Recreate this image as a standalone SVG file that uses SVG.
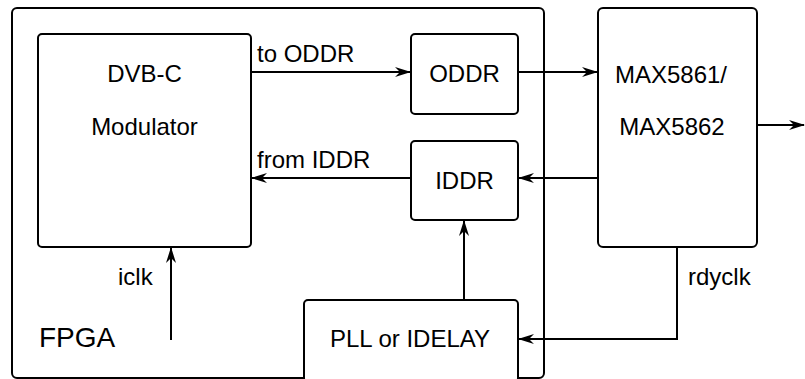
<svg xmlns="http://www.w3.org/2000/svg" width="805" height="379" viewBox="0 0 805 379">
  <style>
    .box { fill: #ffffff; stroke: #000000; stroke-width: 2; }
    .t { font-family: "Liberation Sans", Arial, sans-serif; font-size: 24px; fill: #000000; }
    .c { text-anchor: middle; }
    .big { font-size: 28px; }
    .wire { fill: none; stroke: #000000; stroke-width: 2; marker-end: url(#arr); }
  </style>
  <defs>
    <marker id="arr" markerUnits="userSpaceOnUse" viewBox="0 0 16 10" refX="15" refY="5" markerWidth="16" markerHeight="10" orient="auto">
      <path d="M0,0 L16,5 L0,10 L5,5 Z" fill="#000000"/>
    </marker>
  </defs>
  <rect width="805" height="379" fill="#ffffff"/>

  <g id="fpga">
    <rect class="box" x="12" y="8" width="532" height="370" rx="5"/>
    <text class="t big" x="39" y="347">FPGA</text>
  </g>

  <g id="dvbc">
    <rect class="box" x="38" y="34" width="213" height="213" rx="4"/>
    <text class="t c" x="144.5" y="82">DVB-C</text>
    <text class="t c" x="144.5" y="135">Modulator</text>
  </g>

  <g id="oddr">
    <rect class="box" x="411" y="34" width="107" height="80" rx="4"/>
    <text class="t c" x="464.5" y="82">ODDR</text>
  </g>

  <g id="iddr">
    <rect class="box" x="411" y="141" width="107" height="79" rx="4"/>
    <text class="t c" x="464.5" y="189">IDDR</text>
  </g>

  <g id="max">
    <rect class="box" x="598" y="8" width="159" height="239" rx="5"/>
    <text class="t c" x="671" y="83">MAX5861/</text>
    <text class="t c" x="672" y="135">MAX5862</text>
  </g>

  <g id="pll">
    <rect class="box" x="304" y="300" width="214" height="82" rx="4"/>
    <text class="t c" x="410" y="347">PLL or IDELAY</text>
  </g>

  <g id="connectors">
    <line class="wire" x1="251" y1="72" x2="410" y2="72"/>
    <text class="t" x="257" y="62">to ODDR</text>
    <line class="wire" x1="518" y1="72" x2="597" y2="72"/>
    <line class="wire" x1="757" y1="125" x2="804" y2="125"/>
    <line class="wire" x1="598" y1="178" x2="519" y2="178"/>
    <line class="wire" x1="411" y1="178" x2="252" y2="178"/>
    <text class="t" x="257" y="168">from IDDR</text>
    <line class="wire" x1="464" y1="300" x2="464" y2="221"/>
    <line class="wire" x1="171" y1="340" x2="171" y2="248"/>
    <text class="t" x="118" y="285">iclk</text>
    <polyline class="wire" points="677,247 677,339 519,339"/>
    <text class="t" x="688" y="285">rdyclk</text>
  </g>
</svg>
